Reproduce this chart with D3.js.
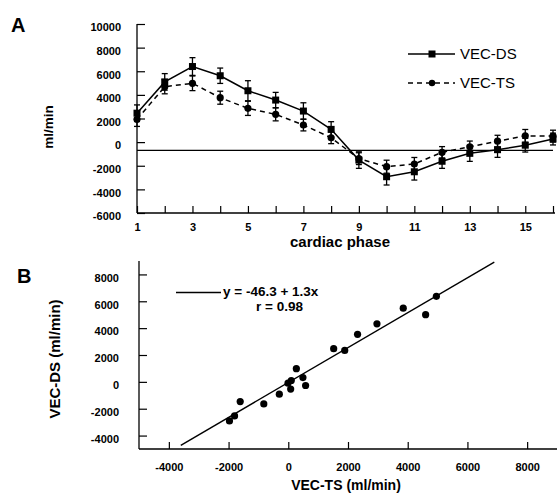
<!DOCTYPE html>
<html><head><meta charset="utf-8">
<script src="https://cdn.jsdelivr.net/npm/d3@7"></script>
<style>
body{margin:0;background:#fff;}
svg{display:block;font-family:"Liberation Sans",Arial,Helvetica,sans-serif;}
</style></head>
<body><svg id="c" width="557" height="494"></svg>
<script>
// Panel A data
const phases = d3.range(1, 17);
const vecDS = [2450, 5100, 6400, 5620, 4350, 3560, 2630, 1080, -1520, -2930, -2510, -1620, -950, -640, -260, 260];
const vecDSerr = [700, 700, 750, 650, 850, 650, 700, 650, 700, 700, 700, 600, 680, 650, 580, 500];
const vecTS = [1930, 4690, 4980, 3760, 2860, 2350, 1450, 370, -1400, -2080, -1850, -860, -390, 80, 530, 510];
const vecTSerr = [600, 600, 620, 550, 600, 550, 500, 500, 500, 550, 550, 480, 480, 500, 540, 500];
const refLineA = -700;
const aYTicks = d3.range(-6000, 10001, 2000);
const aXTickLabels = [1, 3, 5, 7, 9, 11, 13, 15];
// Panel B data
const scatterTS = [-1970, -1800, -1610, -820, -300, -10, 100, 80, 270, 490, 580, 1520, 1890, 2320, 2970, 3850, 4600, 4960];
const scatterDS = [-2910, -2540, -1470, -1640, -920, -100, 100, -540, 980, 320, -270, 2470, 2340, 3540, 4320, 5490, 5000, 6370];
const regIntercept = -46.3, regSlope = 1.3;
const regRange = [-3600, 6900];
const bTicks = d3.range(-4000, 8001, 2000);

const svg = d3.select("#c");
const font = "'Liberation Sans',Arial,sans-serif";

// ---------- Panel A ----------
const xA = d3.scaleLinear().domain([1, 16]).range([137, 553]);
const yA = d3.scaleLinear().domain([-6000, 10000]).range([213, 24]);
const gA = svg.append("g");

const yAxisA = d3.axisLeft(yA).tickValues(aYTicks).tickSize(-8).tickFormat(d => d).tickPadding(16);
const gyA = gA.append("g").attr("transform", `translate(${xA(1)},0)`).call(yAxisA);
gyA.select(".domain").attr("stroke-width", 1.3).attr("d", `M0,${yA(10000)}V${yA(-6000)}`);
gyA.selectAll(".tick text").attr("dy", "0.62em");
const xAxisA = d3.axisBottom(xA).tickValues(phases).tickSize(-7).tickFormat(d => aXTickLabels.includes(d) ? d : "").tickPadding(10);
const gxA = gA.append("g").attr("transform", `translate(0,${yA(-6000)})`).call(xAxisA);
gxA.select(".domain").attr("stroke-width", 1.3).attr("d", `M${xA(1)},0H555`);
gA.selectAll(".tick text").attr("font-family", font).attr("font-weight", "bold").attr("font-size", 11).attr("fill", "#000");
gA.selectAll(".tick line").attr("stroke", "#000").attr("stroke-width", 1.2);

// reference line
gA.append("line").attr("x1", xA(1)).attr("x2", 553).attr("y1", yA(refLineA)).attr("y2", yA(refLineA))
  .attr("stroke", "#000").attr("stroke-width", 1.3);

const series = [
  {vals: vecDS, err: vecDSerr, dash: null, marker: "square"},
  {vals: vecTS, err: vecTSerr, dash: "5,4", marker: "circle"}
];
const line = d3.line().x((d, i) => xA(phases[i])).y(d => yA(d));
series.forEach(s => {
  gA.append("path").datum(s.vals).attr("d", line).attr("fill", "none").attr("stroke", "#000")
    .attr("stroke-width", 1.5).attr("stroke-dasharray", s.dash);
  const eb = gA.append("g").attr("stroke", "#000").attr("stroke-width", 1.3);
  s.vals.forEach((v, i) => {
    const x = xA(phases[i]), y1 = yA(v + s.err[i]), y2 = yA(v - s.err[i]);
    eb.append("line").attr("x1", x).attr("x2", x).attr("y1", y1).attr("y2", y2);
    eb.append("line").attr("x1", x - 3).attr("x2", x + 3).attr("y1", y1).attr("y2", y1);
    eb.append("line").attr("x1", x - 3).attr("x2", x + 3).attr("y1", y2).attr("y2", y2);
  });
  if (s.marker === "square") {
    gA.selectAll(null).data(s.vals).enter().append("rect")
      .attr("x", (d, i) => xA(phases[i]) - 3.5).attr("y", d => yA(d) - 3.5)
      .attr("width", 7).attr("height", 7).attr("fill", "#000");
  } else {
    gA.selectAll(null).data(s.vals).enter().append("circle")
      .attr("cx", (d, i) => xA(phases[i])).attr("cy", d => yA(d)).attr("r", 3.6).attr("fill", "#000");
  }
});

// legend A
const legA = gA.append("g");
legA.append("line").attr("x1", 408).attr("x2", 455).attr("y1", 54).attr("y2", 54).attr("stroke", "#000").attr("stroke-width", 1.5);
legA.append("rect").attr("x", 428.5).attr("y", 50.5).attr("width", 7).attr("height", 7).attr("fill", "#000");
legA.append("text").attr("x", 460).attr("y", 59).text("VEC-DS").attr("font-size", 15).attr("font-family", font);
legA.append("line").attr("x1", 408).attr("x2", 455).attr("y1", 83).attr("y2", 83).attr("stroke", "#000").attr("stroke-width", 1.5).attr("stroke-dasharray", "5,4");
legA.append("circle").attr("cx", 432).attr("cy", 83).attr("r", 3.2).attr("fill", "#000");
legA.append("text").attr("x", 460).attr("y", 88).text("VEC-TS").attr("font-size", 15).attr("font-family", font);

// titles A
svg.append("text").attr("x", 11).attr("y", 32).text("A").attr("font-size", 20).attr("font-weight", "bold").attr("font-family", font);
svg.append("text").attr("transform", "translate(53,127) rotate(-90)").attr("text-anchor", "middle")
  .text("ml/min").attr("font-size", 13.5).attr("font-weight", "bold").attr("font-family", font);
svg.append("text").attr("x", 340).attr("y", 246.5).attr("text-anchor", "middle")
  .text("cardiac phase").attr("font-size", 15).attr("font-weight", "bold").attr("font-family", font);

// ---------- Panel B ----------
const xB = d3.scaleLinear().domain([-5000, 9000]).range([139, 557]);
const yB = d3.scaleLinear().domain([-5000, 9000]).range([449, 261]);
const gB = svg.append("g");
const yAxisB = d3.axisLeft(yB).tickValues(bTicks).tickSize(-8).tickFormat(d => d).tickPadding(20);
const gyB = gB.append("g").attr("transform", `translate(${xB(-5000)},0)`).call(yAxisB);
gyB.select(".domain").attr("stroke-width", 1.3).attr("d", `M0,${yB(9000)}V${yB(-5000)}`);
gyB.selectAll(".tick text").attr("dy", "0.62em");
const xAxisB = d3.axisBottom(xB).tickValues(bTicks).tickSize(-7).tickFormat(d => d).tickPadding(14);
const gxB = gB.append("g").attr("transform", `translate(0,${yB(-5000)})`).call(xAxisB);
gxB.select(".domain").attr("stroke-width", 1.3).attr("d", `M${xB(-5000)},0H557`);
gB.selectAll(".tick text").attr("font-family", font).attr("font-weight", "bold").attr("font-size", 11).attr("fill", "#000");
gB.selectAll(".tick line").attr("stroke", "#000").attr("stroke-width", 1.2);

gB.append("line").attr("x1", xB(regRange[0])).attr("y1", yB(regIntercept + regSlope * regRange[0]))
  .attr("x2", xB(regRange[1])).attr("y2", yB(regIntercept + regSlope * regRange[1]))
  .attr("stroke", "#000").attr("stroke-width", 1.4);
gB.selectAll(null).data(scatterTS).enter().append("circle")
  .attr("cx", d => xB(d)).attr("cy", (d, i) => yB(scatterDS[i])).attr("r", 3.6).attr("fill", "#000");

// legend B
gB.append("line").attr("x1", 176).attr("x2", 221).attr("y1", 292.5).attr("y2", 292.5).attr("stroke", "#000").attr("stroke-width", 1.4);
gB.append("text").attr("x", 223).attr("y", 296).text("y = -46.3 + 1.3x").attr("font-size", 13.5).attr("font-weight", "bold").attr("font-family", font);
gB.append("text").attr("x", 303).attr("y", 311).attr("text-anchor", "end").text("r = 0.98").attr("font-size", 13.5).attr("font-weight", "bold").attr("font-family", font);

svg.append("text").attr("x", 17).attr("y", 283).text("B").attr("font-size", 20).attr("font-weight", "bold").attr("font-family", font);
svg.append("text").attr("transform", "translate(60,359) rotate(-90)").attr("text-anchor", "middle")
  .text("VEC-DS (ml/min)").attr("font-size", 15).attr("font-weight", "bold").attr("font-family", font);
svg.append("text").attr("x", 346).attr("y", 490).attr("text-anchor", "middle")
  .text("VEC-TS (ml/min)").attr("font-size", 14).attr("font-weight", "bold").attr("font-family", font);
</script></body></html>
